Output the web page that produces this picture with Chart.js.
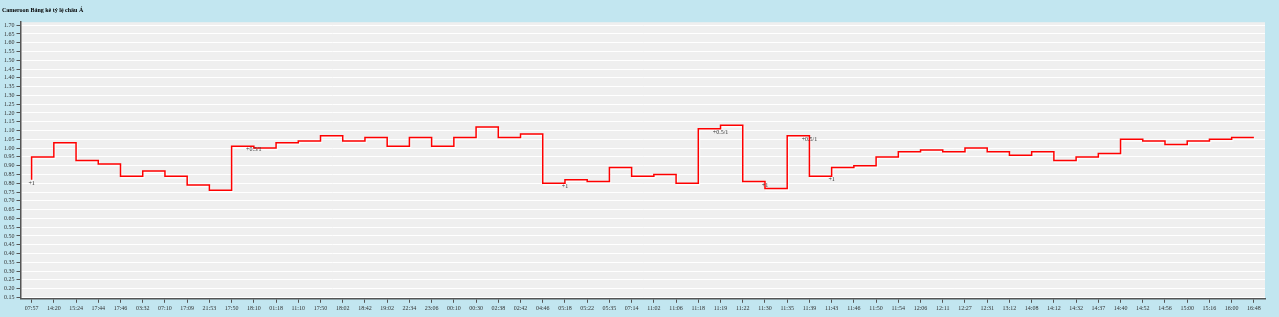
<!DOCTYPE html>
<html>
<head>
<meta charset="utf-8">
<script src="https://cdn.jsdelivr.net/npm/chart.js@4/dist/chart.umd.min.js"></script>
<style>
  html, body { margin: 0; padding: 0; background: #c2e6f0; }
  #wrap { width: 1279px; height: 317px; }
</style>
</head>
<body>
<div id="wrap"><canvas id="rateChart" width="1279" height="317"></canvas></div>
<script>
// DATA
const timeLabels = [
  "07:57", "14:20", "15:24", "17:44", "17:46", "03:32", "07:10", "17:09", "21:53", "17:50",
  "18:10", "01:18", "11:10", "17:50", "18:02", "18:42", "19:02", "22:34", "23:06", "00:10",
  "00:30", "02:38", "02:42", "04:46", "05:18", "05:22", "05:35", "07:14", "11:02", "11:06",
  "11:18", "11:19", "11:22", "11:30", "11:35", "11:39", "11:43", "11:46", "11:50", "11:54",
  "12:06", "12:11", "12:27", "12:31", "13:12", "14:08", "14:12", "14:32", "14:37", "14:40",
  "14:52", "14:56", "15:00", "15:16", "16:00", "16:48"
];
const rateValues = [
  0.82, 0.95, 1.03, 0.93, 0.91, 0.84, 0.87, 0.84, 0.79, 0.76,
  1.01, 1.00, 1.03, 1.04, 1.07, 1.04, 1.06, 1.01, 1.06, 1.01,
  1.06, 1.12, 1.06, 1.08, 0.80, 0.82, 0.81, 0.89, 0.84, 0.85,
  0.80, 1.11, 1.13, 0.81, 0.77, 1.07, 0.84, 0.89, 0.90, 0.95,
  0.98, 0.99, 0.98, 1.00, 0.98, 0.96, 0.98, 0.93, 0.95, 0.97,
  1.05, 1.04, 1.02, 1.04, 1.05, 1.06
];
const yTickValues = [
  0.15, 0.20, 0.25, 0.30, 0.35, 0.40, 0.45, 0.50, 0.55, 0.60, 0.65, 0.70, 0.75, 0.80,
  0.85, 0.90, 0.95, 1.00, 1.05, 1.10, 1.15, 1.20, 1.25, 1.30, 1.35, 1.40, 1.45, 1.50,
  1.55, 1.60, 1.65, 1.70
];
const noteIndexes = [0, 10, 24, 31, 33, 35, 36];
const noteTexts = ["+1", "+0.5/1", "+1", "+0.5/1", "+1", "+0.5/1", "+1"];

const FONT = "'Liberation Serif', 'DejaVu Serif', serif";

// === PLUGINS ===
const plotBackground = {
  id: "plotBackground",
  beforeDraw(chart) {
    const { ctx, chartArea: a } = chart;
    ctx.save();
    ctx.fillStyle = "#efefef";
    ctx.fillRect(a.left, a.top, a.right - a.left, a.bottom - a.top);
    ctx.restore();
  }
};

const lineShadow = {
  id: "lineShadow",
  beforeDatasetDraw(chart) {
    const ctx = chart.ctx;
    ctx.save();
    ctx.shadowColor = "rgba(255,255,255,0.95)";
    ctx.shadowOffsetX = 1;
    ctx.shadowOffsetY = 1.5;
    ctx.shadowBlur = 1;
  },
  afterDatasetDraw(chart) {
    chart.ctx.restore();
  }
};

const pointNotes = {
  id: "pointNotes",
  afterDatasetsDraw(chart) {
    const { ctx } = chart;
    const meta = chart.getDatasetMeta(0);
    ctx.save();
    ctx.font = "6px " + FONT;
    ctx.fillStyle = "#333";
    ctx.textAlign = "center";
    ctx.textBaseline = "top";
    noteIndexes.forEach((idx, n) => {
      const pt = meta.data[idx];
      ctx.fillText(noteTexts[n], pt.x, pt.y + 0.5);
    });
    ctx.restore();
  }
};

// === CHART ===
const ctx = document.getElementById("rateChart").getContext("2d");
new Chart(ctx, {
  type: "line",
  data: {
    labels: timeLabels,
    datasets: [{
      data: rateValues,
      borderColor: "#ff0000",
      borderWidth: 1.5,
      stepped: "after",
      pointRadius: 0,
      fill: false
    }]
  },
  options: {
    responsive: false,
    animation: false,
    layout: { padding: { left: 2, right: 14, top: 0, bottom: 3 } },
    plugins: {
      legend: { display: false },
      tooltip: { enabled: false },
      title: {
        display: true,
        text: "Cameroon Bảng kê tỷ lệ châu Á",
        align: "start",
        color: "#000",
        font: { family: FONT, size: 6, weight: "bold" },
        padding: { top: 7, bottom: 8 }
      }
    },
    scales: {
      x: {
        offset: true,
        grid: {
          offset: false,
          drawOnChartArea: false,
          drawTicks: true,
          tickLength: 4,
          tickColor: "#555"
        },
        border: { color: "#555", width: 1.5 },
        ticks: {
          autoSkip: false,
          maxRotation: 0,
          color: "#333",
          padding: 2,
          font: { family: FONT, size: 6 }
        }
      },
      y: {
        min: 0.142,
        max: 1.717,
        afterBuildTicks: axis => {
          axis.ticks = yTickValues.map(v => ({ value: v }));
        },
        grid: {
          color: "#ffffff",
          lineWidth: 1,
          tickColor: "#555",
          tickLength: 4
        },
        border: { color: "#555", width: 1.5 },
        ticks: {
          autoSkip: false,
          color: "#333",
          padding: 2,
          font: { family: FONT, size: 6 },
          callback: v => Number(v).toFixed(2)
        }
      }
    }
  },
  plugins: [plotBackground, lineShadow, pointNotes]
});
</script>
</body>
</html>
